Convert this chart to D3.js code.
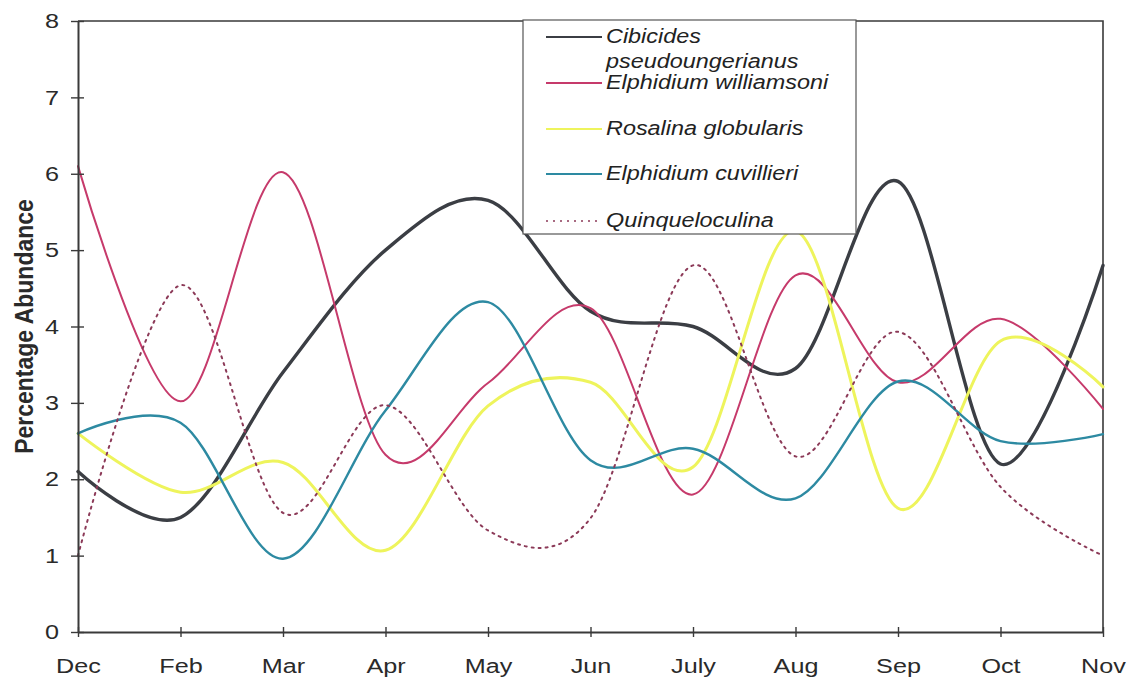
<!DOCTYPE html>
<html>
<head>
<meta charset="utf-8">
<script src="https://cdn.jsdelivr.net/npm/d3@7"></script>
<style>
  html, body { margin: 0; padding: 0; background: #fff; }
  svg { display: block; }
</style>
</head>
<body>
<svg id="chart" width="1136" height="681"></svg>
<script>
// Monthly percentage abundance of foraminifera species
const months = ["Dec", "Feb", "Mar", "Apr", "May", "Jun", "July", "Aug", "Sep", "Oct", "Nov"];
const yTicks = [0, 1, 2, 3, 4, 5, 6, 7, 8];

const cibicides     = [2.1, 1.5, 3.4, 5.0, 5.65, 4.2, 4.0, 3.45, 5.9, 2.2, 4.8];
const williamsoni   = [6.1, 3.02, 6.02, 2.32, 3.26, 4.24, 1.8, 4.67, 3.27, 4.1, 2.92];
const rosalina      = [2.6, 1.83, 2.22, 1.07, 2.96, 3.27, 2.16, 5.25, 1.62, 3.81, 3.21];
const cuvillieri    = [2.6, 2.74, 0.96, 2.9, 4.32, 2.25, 2.4, 1.75, 3.28, 2.5, 2.59];
const quinqueloculina = [1.0, 4.54, 1.56, 2.97, 1.33, 1.49, 4.8, 2.3, 3.93, 1.9, 1.0];

const series = [
  { name: ["Cibicides", "pseudoungerianus"], values: cibicides,   color: "#3b3e44", width: 3.4, dash: null },
  { name: ["Elphidium williamsoni"],         values: williamsoni, color: "#c63a6b", width: 2,   dash: null },
  { name: ["Rosalina globularis"],           values: rosalina,    color: "#eef45c", width: 3,   dash: null },
  { name: ["Elphidium cuvillieri"],          values: cuvillieri,  color: "#2d8aa2", width: 2.4, dash: null },
  { name: ["Quinqueloculina"],               values: quinqueloculina, color: "#8c3a58", width: 2, dash: "2,5" }
];

const svg = d3.select("#chart");
const plotLeft = 78, plotRight = 1103, plotTop = 21, plotBottom = 632;
const font = "Liberation Sans, Arial, sans-serif";
const stretch = 1.2; // text is drawn slightly wide

const x = d3.scalePoint().domain(months).range([plotLeft, plotRight]);
const y = d3.scaleLinear().domain([0, 8]).range([plotBottom, plotTop]);

const axisColor = "#3a3a3a";

// Plot frame (top and right edges)
svg.append("path")
  .attr("d", `M${plotLeft},${plotTop}H${plotRight}V${plotBottom}`)
  .attr("fill", "none").attr("stroke", axisColor).attr("stroke-width", 1.6);

// Series lines, smoothed
const line = d3.line()
  .x((d, i) => x(months[i]))
  .y(d => y(d))
  .curve(d3.curveCardinal.tension(0));

series.forEach(s => {
  svg.append("path")
    .datum(s.values)
    .attr("d", line)
    .attr("fill", "none")
    .attr("stroke", s.color)
    .attr("stroke-width", s.width)
    .attr("stroke-linecap", "round")
    .attr("stroke-linejoin", "round")
    .attr("stroke-dasharray", s.dash);
});

// Y axis
const yAxis = svg.append("g")
  .attr("transform", `translate(${plotLeft},0)`)
  .call(d3.axisLeft(y).tickValues(yTicks).tickSize(7).tickPadding(10).tickSizeOuter(0));
yAxis.selectAll(".tick line").attr("x2", 6).attr("x1", -7);
yAxis.select(".domain").attr("stroke", axisColor).attr("stroke-width", 2);
yAxis.selectAll(".tick line").attr("stroke", axisColor).attr("stroke-width", 1.4);
yAxis.selectAll(".tick text")
  .attr("fill", "#2a2a2a")
  .attr("font-family", font)
  .attr("font-size", 21)
  .attr("transform", `scale(${stretch},1)`)
  .attr("x", -19 / stretch);

// X axis
const xAxis = svg.append("g")
  .attr("transform", `translate(0,${plotBottom})`)
  .call(d3.axisBottom(x).tickSize(6).tickSizeOuter(0));
xAxis.selectAll(".tick line").attr("y1", -5).attr("y2", 5);
xAxis.select(".domain").attr("stroke", axisColor).attr("stroke-width", 2);
xAxis.selectAll(".tick line").attr("stroke", axisColor).attr("stroke-width", 1.4);
xAxis.selectAll(".tick text")
  .attr("fill", "#2a2a2a")
  .attr("font-family", font)
  .attr("font-size", 21)
  .attr("transform", `scale(${stretch},1)`)
  .attr("y", 26);

// Y axis title
svg.append("text")
  .attr("transform", `translate(33,${(plotTop + plotBottom) / 2}) scale(1.12,1) rotate(-90)`)
  .attr("text-anchor", "middle")
  .attr("font-family", font)
  .attr("font-weight", "bold")
  .attr("font-size", 23)
  .attr("fill", "#2a2a2a")
  .text("Percentage Abundance");

// Legend
const lg = svg.append("g");
lg.append("rect")
  .attr("x", 523).attr("y", 20).attr("width", 333).attr("height", 214)
  .attr("fill", "#fff").attr("stroke", "#555").attr("stroke-width", 1.2);

const entryY = [37, 83, 129, 174, 221];
series.forEach((s, i) => {
  const yy = entryY[i];
  lg.append("line")
    .attr("x1", 546).attr("x2", 602).attr("y1", yy).attr("y2", yy)
    .attr("stroke", s.color)
    .attr("stroke-width", s.dash ? 1.6 : Math.min(s.width, 2.2))
    .attr("stroke-dasharray", s.dash);
  s.name.forEach((t, j) => {
    lg.append("text")
      .attr("transform", `translate(606,${yy + 6 + j * 25}) scale(${stretch},1)`)
      .attr("font-family", font)
      .attr("font-style", "italic")
      .attr("font-size", 19.5)
      .attr("fill", "#222")
      .text(t);
  });
});
</script>
</body>
</html>
